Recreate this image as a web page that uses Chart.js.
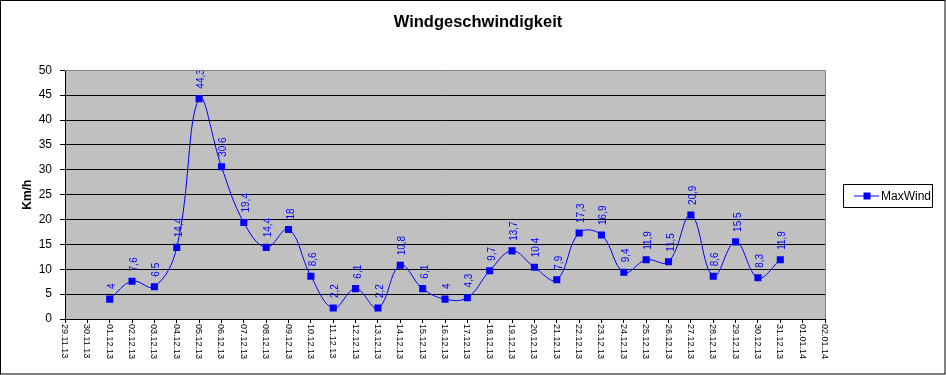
<!DOCTYPE html>
<html>
<head>
<meta charset="utf-8">
<script src="https://cdn.jsdelivr.net/npm/chart.js@4"></script>
<style>
  body { margin: 0; background: #fff; }
</style>
</head>
<body>
<canvas id="wind" width="946" height="375"></canvas>
<script>
const days = [
  "29.11.13", "30.11.13",
  "01.12.13", "02.12.13", "03.12.13", "04.12.13", "05.12.13", "06.12.13", "07.12.13", "08.12.13",
  "09.12.13", "10.12.13", "11.12.13", "12.12.13", "13.12.13", "14.12.13", "15.12.13", "16.12.13",
  "17.12.13", "18.12.13", "19.12.13", "20.12.13", "21.12.13", "22.12.13", "23.12.13", "24.12.13",
  "25.12.13", "26.12.13", "27.12.13", "28.12.13", "29.12.13", "30.12.13", "31.12.13",
  "01.01.14", "02.01.14"
];
const maxWind = [
  null, null,
  4, 7.6, 6.5, 14.4, 44.3, 30.6, 19.4, 14.4,
  18, 8.6, 2.2, 6.1, 2.2, 10.8, 6.1, 4,
  4.3, 9.7, 13.7, 10.4, 7.9, 17.3, 16.9, 9.4,
  11.9, 11.5, 20.9, 8.6, 15.5, 8.3, 11.9,
  null, null
];
const yMin = 0;
const yMax = 50;
const yStep = 5;

const FONT = "'Liberation Sans', Arial, sans-serif";
const BLUE = "#0000ff";

// grey plot area, grey top/right edge, outer frame, rotated labels, legend box
const excelLook = {
  id: "excelLook",
  beforeDraw(chart) {
    const { ctx, chartArea: a } = chart;
    ctx.save();
    ctx.fillStyle = "#c0c0c0";
    ctx.fillRect(a.left, a.top, a.right - a.left, a.bottom - a.top);
    ctx.restore();
  },
  afterDatasetsDraw(chart) {
    const ctx = chart.ctx;
    const meta = chart.getDatasetMeta(0);
    const values = chart.data.datasets[0].data;
    ctx.save();
    ctx.font = "10px " + FONT;
    ctx.fillStyle = BLUE;
    ctx.textAlign = "left";
    ctx.textBaseline = "alphabetic";
    meta.data.forEach((pt, i) => {
      if (values[i] == null) return;
      ctx.save();
      ctx.translate(pt.x + 5, pt.y - 10);
      ctx.rotate(-Math.PI / 2);
      ctx.fillText(String(values[i]).replace(".", ","), 0, 0);
      ctx.restore();
    });
    ctx.restore();
  },
  afterDraw(chart) {
    const { ctx, chartArea: a } = chart;
    const x = chart.scales.x;
    ctx.save();
    // plot border top / right
    ctx.strokeStyle = "#808080";
    ctx.lineWidth = 1;
    ctx.beginPath();
    ctx.moveTo(a.left, Math.round(a.top) + 0.5);
    ctx.lineTo(Math.round(a.right) + 0.5, Math.round(a.top) + 0.5);
    ctx.lineTo(Math.round(a.right) + 0.5, a.bottom);
    ctx.stroke();

    // x labels, reading top to bottom
    ctx.fillStyle = "#000";
    ctx.font = "9px " + FONT;
    ctx.textAlign = "left";
    ctx.textBaseline = "alphabetic";
    chart.data.labels.forEach((lab, i) => {
      ctx.save();
      ctx.translate(x.getPixelForTick(i) - 3, a.bottom + 5);
      ctx.rotate(Math.PI / 2);
      ctx.fillText(lab, 0, 0);
      ctx.restore();
    });

    // legend
    const lx = 843, ly = 184, lw = 89, lh = 23;
    ctx.fillStyle = "#fff";
    ctx.fillRect(lx, ly, lw, lh);
    ctx.strokeStyle = "#000";
    ctx.strokeRect(lx + 0.5, ly + 0.5, lw, lh);
    ctx.strokeStyle = BLUE;
    ctx.beginPath();
    ctx.moveTo(854, ly + 12);
    ctx.lineTo(879, ly + 12);
    ctx.stroke();
    ctx.fillStyle = BLUE;
    ctx.fillRect(863.5, ly + 8.5, 7, 7);
    ctx.fillStyle = "#000";
    ctx.font = "12px " + FONT;
    ctx.textBaseline = "middle";
    ctx.fillText(chart.data.datasets[0].label, 881, ly + 12.5);

    // outer frame
    ctx.strokeStyle = "#000";
    ctx.strokeRect(0.5, 0.5, chart.width - 1.5, chart.height - 1.5);
    ctx.restore();
  }
};

new Chart(document.getElementById("wind").getContext("2d"), {
  type: "line",
  data: {
    labels: days,
    datasets: [
      {
        label: "MaxWind",
        data: maxWind,
        borderColor: BLUE,
        backgroundColor: BLUE,
        borderWidth: 1,
        tension: 0.4,
        pointStyle: "rect",
        pointRadius: 5,
        pointBorderWidth: 0,
        pointBackgroundColor: BLUE,
        fill: false,
      },
    ],
  },
  options: {
    responsive: false,
    animation: false,
    events: [],
    devicePixelRatio: 1,
    layout: { padding: { left: 10, right: 0, top: 0, bottom: 0 } },
    plugins: {
      legend: { display: false },
      tooltip: { enabled: false },
      title: {
        display: true,
        text: "Windgeschwindigkeit",
        color: "#000",
        font: { family: FONT, size: 16.5, weight: "bold" },
        padding: { top: 13, bottom: 37.5 },
      },
    },
    scales: {
      x: {
        type: "category",
        offset: false,
        ticks: { display: false, autoSkip: false },
        grid: { drawOnChartArea: false, drawTicks: true, tickLength: 4, tickColor: "#000" },
        border: { display: true, color: "#000" },
        afterFit(s) { s.height = 56; },
      },
      y: {
        min: yMin,
        max: yMax,
        ticks: {
          stepSize: yStep,
          color: "#000",
          padding: 8,
          font: { family: FONT, size: 12 },
        },
        grid: {
          color: (c) => (c.tick && c.tick.value === yMax ? "#808080" : "#000"),
          tickColor: "#000",
          tickLength: 5,
        },
        border: { display: true, color: "#000" },
        title: {
          display: true,
          text: "Km/h",
          color: "#000",
          font: { family: FONT, size: 12, weight: "bold" },
          padding: { top: 10, bottom: 0 },
        },
        afterFit(s) { s.width = 55; },
      },
      y2: {
        position: "right",
        display: true,
        ticks: { display: false },
        grid: { display: false },
        border: { display: false },
        afterFit(s) { s.width = 121; },
      },
    },
  },
  plugins: [excelLook],
});
</script>
</body>
</html>
